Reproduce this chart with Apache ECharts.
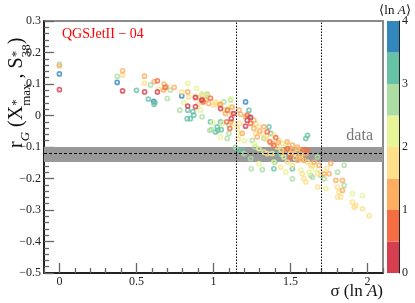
<!DOCTYPE html>
<html><head><meta charset="utf-8">
<script src="https://cdn.jsdelivr.net/npm/echarts@6/dist/echarts.min.js"></script>
<style>html,body{margin:0;padding:0;background:#fff}#c{width:415px;height:303px}</style>
</head><body><div id="c"></div>
<script>
// ---- data ----
const sigma = [0.00,0.00,0.00,0.00,0.41,0.41,0.375,0.375,0.41,0.50,
0.552,0.552,0.592,0.616,0.636,0.553,0.636,0.577,0.612,0.62,
0.614,0.679,0.686,0.677,0.694,0.72,0.745,0.70,0.647,0.794,
0.833,0.794,0.833,0.889,0.781,0.833,0.833,0.883,0.883,0.85,
0.872,0.829,0.866,0.926,0.915,0.922,0.933,0.915,0.969,0.976,
0.96,0.839,0.807,0.883,1.013,1.046,0.995,1.057,0.987,1.028,
1.05,1.078,1.091,0.926,0.955,1.002,1.041,1.046,1.072,1.089,
1.115,1.122,1.085,1.111,1.106,1.132,1.013,1.10,1.046,1.089,
1.208,1.23,1.219,1.208,1.241,1.176,1.171,1.187,1.262,1.273,
1.284,1.252,1.317,1.327,1.349,1.371,1.366,1.392,1.381,1.414,
1.447,1.457,1.49,1.523,1.545,1.143,1.154,1.187,1.197,1.265,
1.295,1.327,1.349,1.381,1.425,1.442,1.245,1.317,1.392,1.436,
1.479,1.512,1.545,1.501,0.926,1.013,1.046,1.067,1.111,1.122,
1.132,1.165,1.23,1.219,1.208,1.241,1.262,1.273,1.295,1.327,
1.36,1.349,1.392,1.024,1.154,1.176,1.61,1.599,1.479,1.512,
1.404,1.425,1.469,1.479,1.512,1.545,1.566,1.588,1.61,1.599,
1.566,1.555,1.588,1.61,1.653,1.685,1.631,1.675,1.457,1.392,
1.469,1.512,1.577,1.62,1.588,1.599,1.642,1.675,1.696,1.718,
1.75,1.696,1.718,1.729,1.805,1.794,1.837,1.848,1.837,1.805,
1.815,1.826,1.805,1.902,1.967,1.902,1.924,1.913,1.967,2.01,
1.735,1.761,1.848,1.675,1.241,1.295,1.397,1.512,1.566,1.631,
1.111,1.115,0.98,1.046,1.10,0.926,0.952,1.30,1.34,1.42,
1.44,1.50,1.53,1.57,1.64,1.66,1.27,1.20,1.16,0.95,
0.98,0.90];
const rG = [0.163,0.158,0.132,0.082,0.142,0.128,0.124,0.105,0.078,0.080,
0.125,0.102,0.097,0.108,0.110,0.075,0.075,0.052,0.045,0.041,
0.036,0.100,0.089,0.081,0.091,0.081,0.089,0.054,0.083,0.075,
0.075,0.062,0.102,0.086,0.017,0.030,0.017,0.028,0.059,-0.010,
0.001,-0.010,0.012,-0.004,0.017,0.049,0.043,0.059,0.038,-0.047,
0.068,0.059,0.041,0.057,0.038,0.038,-0.022,-0.025,-0.045,-0.047,
-0.045,0.006,0.017,0.065,0.065,0.033,0.033,0.022,0.017,0.022,
0.027,0.006,-0.020,-0.020,-0.041,-0.025,-0.052,-0.057,-0.068,-0.073,
0.043,-0.004,-0.015,-0.034,-0.025,0.004,-0.025,-0.057,-0.041,-0.057,
-0.068,-0.079,-0.057,-0.073,-0.063,-0.057,-0.084,-0.095,-0.089,-0.100,
-0.089,-0.116,-0.105,-0.121,-0.100,-0.100,-0.110,-0.110,-0.121,-0.090,
-0.105,-0.116,-0.121,-0.121,-0.121,-0.123,-0.169,-0.172,-0.169,-0.164,
-0.148,-0.158,-0.142,-0.132,0.049,0.043,0.036,0.043,0.049,0.027,
0.006,0.017,0.017,0.001,-0.004,-0.006,-0.015,-0.025,-0.036,-0.036,
-0.036,-0.052,-0.063,-0.036,-0.041,-0.057,-0.063,-0.073,-0.084,-0.094,
-0.070,-0.079,-0.089,-0.105,-0.110,-0.105,-0.110,-0.108,-0.110,-0.121,
-0.126,-0.132,-0.142,-0.148,-0.148,-0.158,-0.158,-0.132,-0.132,-0.148,
-0.180,-0.201,-0.185,-0.180,-0.201,-0.211,-0.196,-0.185,-0.190,-0.185,
-0.185,-0.180,-0.201,-0.232,-0.180,-0.206,-0.206,-0.222,-0.238,-0.227,
-0.243,-0.259,-0.259,-0.248,-0.254,-0.275,-0.286,-0.291,-0.296,-0.318,
-0.168,-0.152,-0.158,-0.227,-0.137,-0.153,-0.148,-0.169,-0.174,-0.190,
0.054,-0.010,-0.020,-0.020,-0.031,0.070,0.065,-0.050,-0.075,-0.085,
-0.110,-0.120,-0.135,-0.140,-0.160,-0.170,-0.100,-0.080,-0.075,0.050,
0.055,0.035];
const lnA = [2.75,1.25,3.75,0.25,1.25,1.75,2.75,3.75,0.25,3.25,
1.25,1.75,2.75,1.25,0.75,0.25,0.25,3.25,3.75,3.25,
3.25,1.25,0.75,1.25,1.25,2.75,1.25,2.75,1.75,1.75,
1.25,3.75,2.25,2.25,2.75,0.25,3.25,0.25,1.25,3.25,
3.25,3.25,3.25,2.75,2.25,0.75,0.75,1.75,1.25,2.75,
2.75,1.75,2.25,0.25,1.75,2.25,2.25,2.25,2.75,3.25,
3.25,1.25,0.75,2.75,1.75,1.75,1.25,0.25,1.75,2.25,
2.25,1.25,0.75,1.25,0.75,1.75,3.25,2.75,2.25,2.75,
3.75,3.25,0.25,0.25,0.75,1.25,1.75,1.25,1.25,1.75,
1.25,2.75,1.75,2.75,1.75,3.25,0.75,0.75,1.25,1.75,
1.75,1.25,1.25,1.75,1.25,2.75,3.25,3.25,2.75,2.25,
2.25,2.25,1.75,2.25,3.25,2.75,2.75,2.75,3.25,1.75,
1.75,1.75,1.25,0.75,0.25,1.75,1.25,2.75,2.75,1.25,
0.25,1.25,3.25,0.75,1.25,0.25,1.25,1.75,1.75,1.25,
3.25,0.75,1.75,3.25,1.75,2.25,3.25,3.25,1.25,1.25,
0.75,1.75,2.25,0.75,1.25,1.75,1.25,0.75,0.75,1.25,
1.75,1.25,1.25,1.75,1.25,1.25,1.75,2.75,2.25,2.25,
2.25,2.75,1.75,2.25,1.75,1.75,2.75,1.75,2.75,1.25,
1.25,1.75,2.75,2.25,2.75,1.25,1.25,2.75,1.25,1.75,
1.75,1.75,1.75,2.25,2.25,1.75,1.75,1.75,1.75,1.75,
1.75,1.25,2.75,1.75,2.75,2.25,3.25,3.25,2.25,2.75,
2.25,0.25,3.25,3.25,2.75,2.25,2.75,1.25,1.75,1.25,
1.75,1.75,2.25,1.75,1.75,2.25,2.75,2.25,1.75,1.25,
0.75,1.75];
const binEdges = [0,0.5,1,1.5,2,2.5,3,3.5,4];
const binColors = ['#d53e4f','#f46d43','#fdae61','#fee08b','#e6f598','#abdda4','#66c2a5','#3288bd'];
const xMajorTicks = [0,0.5,1,1.5,2];
const xMinorTicks = [-0.1,0.1,0.2,0.3,0.4,0.6,0.7,0.8,0.9,1.1,1.2,1.3,1.4,1.6,1.7,1.8,1.9,2.1];
const cutLines = [1.15,1.7];
const dataBand = [-0.148,-0.1];
const dataValue = -0.123;
const modelLabel = 'QGSJetII \u2212 04';

// ---- layout / style ----
const FONT = '"Liberation Serif","Times New Roman",serif';
const mctx = document.createElement('canvas').getContext('2d');
function tw(t,size,italic){mctx.font=(italic?'italic ':'')+size+'px '+FONT;return mctx.measureText(t).width;}
function txt(t,x,base,size,italic,color,align){
  return {type:'text',x:x,y:base-0.34*size,silent:true,
    style:{text:t,font:(italic?'italic ':'')+size+'px '+FONT,fill:color,textAlign:align||'left',textVerticalAlign:'middle',verticalAlign:'middle'}};
}
function runWidth(parts){let w=0;for(const p of parts){if(p.t!==undefined)w+=tw(p.t,p.size,p.italic);else w+=Math.max(tw(p.sup,p.size,p.italic),tw(p.sub,p.size,p.italic));}return w;}
function run(parts,color){
  let x=0;const ch=[];
  for(const p of parts){
    if(p.t!==undefined){ch.push(txt(p.t,x,p.dy||0,p.size,p.italic,color));x+=tw(p.t,p.size,p.italic);}
    else{ch.push(txt(p.sup,x,p.supDy,p.size,p.italic,color));ch.push(txt(p.sub,x,p.subDy,p.size,p.italic,color));
      x+=Math.max(tw(p.sup,p.size,p.italic),tw(p.sub,p.size,p.italic));}
  }
  return ch;
}
const yTitleParts=[
  {t:'r',size:20},{t:'G',size:13,italic:true,dy:6},{t:' (',size:20},{t:'X',size:20},
  {sup:'*',sub:'max',size:13,supDy:-3,subDy:7},{t:' , S',size:20},
  {sup:'*',sub:'38',size:13,supDy:-3,subDy:7},{t:')',size:20}];
const xTitleParts=[{t:'\u03c3 (ln ',size:17},{t:'A',size:17,italic:true},{t:')',size:17}];
const cbTitleParts=[{t:'\u27e8ln ',size:13},{t:'A',size:13,italic:true},{t:'\u27e9',size:13}];

const chart = echarts.init(document.getElementById('c'),null,{renderer:'canvas'});
const fmt = v => { const r=Math.round(v*10)/10; if(r===0) return '0'; return (r<0?'\u2212':'')+Math.abs(r); };

const scatterSeries=[];
for(let b=binColors.length-1;b>=0;b--){
  const pts=[];
  for(let i=0;i<sigma.length;i++){ if(lnA[i]>=binEdges[b]&&lnA[i]<binEdges[b+1]) pts.push([sigma[i],rG[i],lnA[i]]); }
  scatterSeries.push({type:'scatter',xAxisIndex:0,yAxisIndex:0,data:pts,symbol:'circle',symbolSize:4,silent:true,z:3,
    itemStyle:{color:'rgba(0,0,0,0)',borderColor:binColors[b],borderWidth:1.7}});
}
const cbSeries=binColors.map((c,i)=>({type:'bar',xAxisIndex:2,yAxisIndex:1,stack:'cb',barWidth:'100%',silent:true,z:1,
  data:[binEdges[i+1]-binEdges[i]],itemStyle:{color:c}}));

const tickStyle={color:'#666',width:1.3};
const option={
  animation:false,
  grid:[{left:44,top:21,width:339,height:252,show:true,borderColor:'#8a8a8a',borderWidth:2,backgroundColor:'rgba(0,0,0,0)'},
        {left:387,top:21,width:12,height:252}],
  xAxis:[
    {gridIndex:0,type:'value',min:-0.1,max:2.1,splitLine:{show:false},
     axisLine:{show:true,onZero:false,lineStyle:{color:'#000',width:1.5}},
     axisTick:{inside:true,length:10,customValues:xMajorTicks,lineStyle:tickStyle},
     axisLabel:{customValues:xMajorTicks,formatter:fmt,fontFamily:FONT,fontSize:12,color:'#222',margin:3}},
    {gridIndex:0,type:'value',min:-0.1,max:2.1,position:'bottom',splitLine:{show:false},axisLine:{show:false,onZero:false},
     axisTick:{inside:true,length:5,customValues:xMinorTicks,lineStyle:tickStyle},axisLabel:{show:false}},
    {gridIndex:1,type:'category',data:['cb'],show:false}
  ],
  yAxis:[
    {gridIndex:0,type:'value',min:-0.5,max:0.3,interval:0.1,splitLine:{show:false},
     axisLine:{show:true,onZero:false,lineStyle:{color:'#000',width:1.5}},
     axisTick:{inside:true,length:10,lineStyle:tickStyle},
     minorTick:{show:true,splitNumber:5,length:5,lineStyle:tickStyle},
     axisLabel:{formatter:fmt,fontFamily:FONT,fontSize:12,color:'#222',margin:3}},
    {gridIndex:1,type:'value',min:0,max:4,interval:1,position:'right',z:5,splitLine:{show:false},
     axisLine:{show:true,lineStyle:{color:'#222',width:1}},
     axisTick:{inside:true,length:12,lineStyle:{color:'rgba(0,0,0,0.65)',width:1.5}},
     axisLabel:{fontFamily:FONT,fontSize:12,color:'#222',margin:3}}
  ],
  series:[
    {type:'line',xAxisIndex:0,yAxisIndex:0,data:[],silent:true,z:1,
     markArea:{silent:true,itemStyle:{color:'#999'},data:[[{yAxis:dataBand[1]},{yAxis:dataBand[0]}]]},
     markLine:{silent:true,symbol:['none','none'],label:{show:false},animation:false,
       data:[
         ...cutLines.map(v=>({xAxis:v,lineStyle:{color:'#000',type:[1.5,1.5],width:1}})),
         {yAxis:dataValue,lineStyle:{color:'#000',type:[3,2],width:1}}
       ]}},
    ...scatterSeries,
    ...cbSeries
  ],
  graphic:[]
};
const g=[];
g.push(txt(modelLabel,62,39,14,false,'#f00'));
g.push(txt('data',373,141.5,16,false,'#777','right'));
const xw=runWidth(xTitleParts);
g.push({type:'group',x:383-xw,y:297,children:run(xTitleParts,'#111')});
const cw=runWidth(cbTitleParts);
g.push({type:'group',x:395-cw/2,y:15,children:run(cbTitleParts,'#111')});
g.push({type:'group',x:24,y:148,rotation:Math.PI/2,children:run(yTitleParts,'#111')});
option.graphic=g;
chart.setOption(option);
</script></body></html>
